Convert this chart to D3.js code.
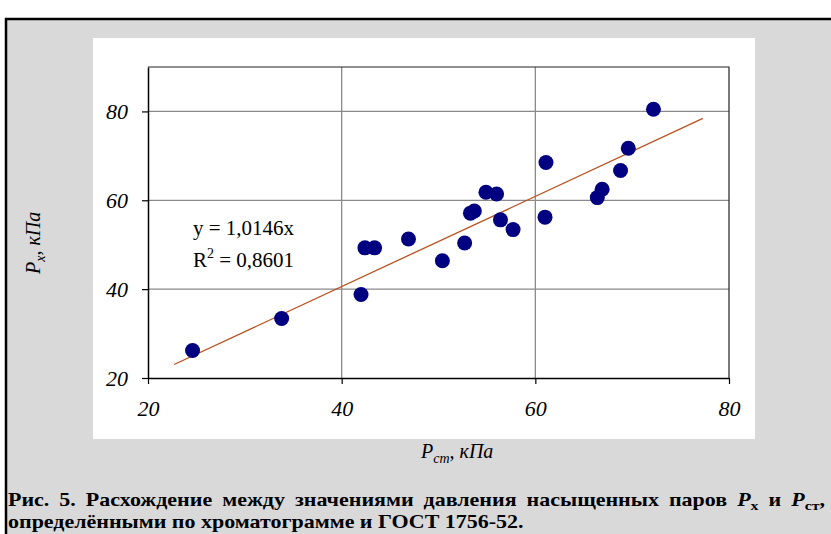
<!DOCTYPE html>
<html>
<head>
<meta charset="utf-8">
<script src="https://cdn.jsdelivr.net/npm/d3@7"></script>
<style>
  body { margin: 0; background: #fff; }
  svg { display: block; }
  text { font-family: "Liberation Serif", "Times New Roman", serif; }
</style>
</head>
<body>
<script>
// measured values: P_ст (x) and P_x (y), kPa
var pst = [24.6, 33.8, 42.0, 42.4, 43.4, 46.9, 50.4, 52.7, 53.3, 53.7, 54.9,
           56.0, 56.4, 57.7, 61.1, 61.0, 66.4, 66.9, 68.8, 69.6, 72.2];
var px  = [26.2, 33.4, 38.8, 49.3, 49.3, 51.3, 46.4, 50.4, 57.1, 57.6, 61.8,
           61.4, 55.6, 53.4, 68.5, 56.2, 60.6, 62.5, 66.7, 71.7, 80.5];
var xTicks = [20, 40, 60, 80];
var yTicks = [20, 40, 60, 80];
var slope = 1.0146;
var trendRange = [22.7, 77.3];
var eqText = "y = 1,0146x";
var r2Text = " = 0,8601";

var W = 831, H = 534;
var svg = d3.select("body").append("svg").attr("width", W).attr("height", H);

// grey frame with heavy border
svg.append("rect").attr("x", 6).attr("y", 19).attr("width", W + 10).attr("height", H + 10)
   .style("fill", "#d9d9d9").style("stroke", "#000").style("stroke-width", 2.5);
// white chart area
svg.append("rect").attr("x", 93).attr("y", 38).attr("width", 662).attr("height", 401)
   .style("fill", "#fff");

var x = d3.scaleLinear().domain([20, 80]).range([148, 729]);
var y = d3.scaleLinear().domain([20, 90]).range([378, 67]);

// grid
var g = svg.append("g");
g.selectAll("line.hg").data(yTicks.slice(1)).enter().append("line")
  .attr("x1", x(20)).attr("x2", x(80))
  .attr("y1", function(d) { return y(d); }).attr("y2", function(d) { return y(d); })
  .style("stroke", "#8a8a8a").style("stroke-width", 1.3);
g.selectAll("line.vg").data(xTicks.slice(1, 3)).enter().append("line")
  .attr("y1", y(20)).attr("y2", y(90))
  .attr("x1", function(d) { return x(d); }).attr("x2", function(d) { return x(d); })
  .style("stroke", "#8a8a8a").style("stroke-width", 1.3);

// plot border top/right
g.append("path")
  .attr("d", "M" + x(20) + "," + y(90) + "H" + x(80) + "V" + y(20))
  .style("fill", "none").style("stroke", "#222").style("stroke-width", 1.2);

// axes
var ax = svg.append("g").attr("transform", "translate(0," + y(20) + ")")
  .call(d3.axisBottom(x).tickValues(xTicks).tickSize(6).tickSizeOuter(0).tickPadding(16.5));
var ay = svg.append("g").attr("transform", "translate(" + x(20) + ",0)")
  .call(d3.axisLeft(y).tickValues(yTicks).tickSize(6).tickSizeOuter(0).tickPadding(14));
[ax, ay].forEach(function(a) {
  a.select(".domain").style("stroke", "#000").style("stroke-width", 1.5);
  a.selectAll(".tick line").style("stroke", "#000").style("stroke-width", 1.2);
  a.selectAll(".tick text").style("font-family", "Liberation Serif, serif")
    .style("font-style", "italic").style("font-size", "22px").style("fill", "#000");
});

// trendline
svg.append("line")
  .attr("x1", x(trendRange[0])).attr("y1", y(slope * trendRange[0]))
  .attr("x2", x(trendRange[1])).attr("y2", y(slope * trendRange[1]))
  .style("stroke", "#b9501e").style("stroke-width", 1.3);

// points
svg.append("g").selectAll("circle")
  .data(d3.range(pst.length)).enter()
  .append("circle")
  .attr("cx", function(i) { return x(pst[i]); })
  .attr("cy", function(i) { return y(px[i]); })
  .attr("r", 7.5)
  .style("fill", "#000080");

// equation
svg.append("text").attr("x", 193).attr("y", 235).style("font-size", "21px").text(eqText);
var r2 = svg.append("text").attr("x", 193).attr("y", 267).style("font-size", "21px");
r2.append("tspan").text("R");
r2.append("tspan").attr("dy", -9).style("font-size", "14px").text("2");
r2.append("tspan").attr("dy", 9).text(r2Text);

// axis titles
var xt = svg.append("text").attr("x", 421).attr("y", 458)
  .style("font-size", "20px").style("font-style", "italic");
xt.append("tspan").text("P");
xt.append("tspan").attr("dy", 5).style("font-size", "14px").text("ст");
xt.append("tspan").attr("dy", -5).text(", кПа");

var yt = svg.append("text").attr("transform", "translate(40,274) rotate(-90)")
  .style("font-size", "20px").style("font-style", "italic");
yt.append("tspan").text("P");
yt.append("tspan").attr("dy", 5).style("font-size", "14px").text("x");
yt.append("tspan").attr("dy", -5).text(", кПа");

// caption: both lines stretched a bit, first line justified
var cap2 = svg.append("g");
var c2 = cap2.append("text").attr("x", 0).attr("y", 0)
  .style("font-size", "18px").style("font-weight", "bold")
  .text("определёнными по хроматограмме и ГОСТ 1756-52.");
var sx = 516 / c2.node().getComputedTextLength();
cap2.attr("transform", "translate(8,528) scale(" + sx + ",1)");

var cap1 = svg.append("g").attr("transform", "translate(8,506) scale(" + sx + ",1)");
var c1 = cap1.append("text").attr("x", 0).attr("y", 0)
  .style("font-size", "18px").style("font-weight", "bold");
c1.append("tspan").text("Рис. 5. Расхождение между значениями давления насыщенных паров ");
c1.append("tspan").style("font-style", "italic").text("P");
c1.append("tspan").attr("dy", 4).style("font-size", "13px").text("х");
c1.append("tspan").attr("dy", -4).text(" и ");
c1.append("tspan").style("font-style", "italic").text("P");
c1.append("tspan").attr("dy", 4).style("font-size", "13px").text("ст");
c1.append("tspan").attr("dy", -4).text(",");
var gap = (817 / sx - c1.node().getComputedTextLength()) / 10;
c1.style("word-spacing", gap + "px");
</script>
</body>
</html>
